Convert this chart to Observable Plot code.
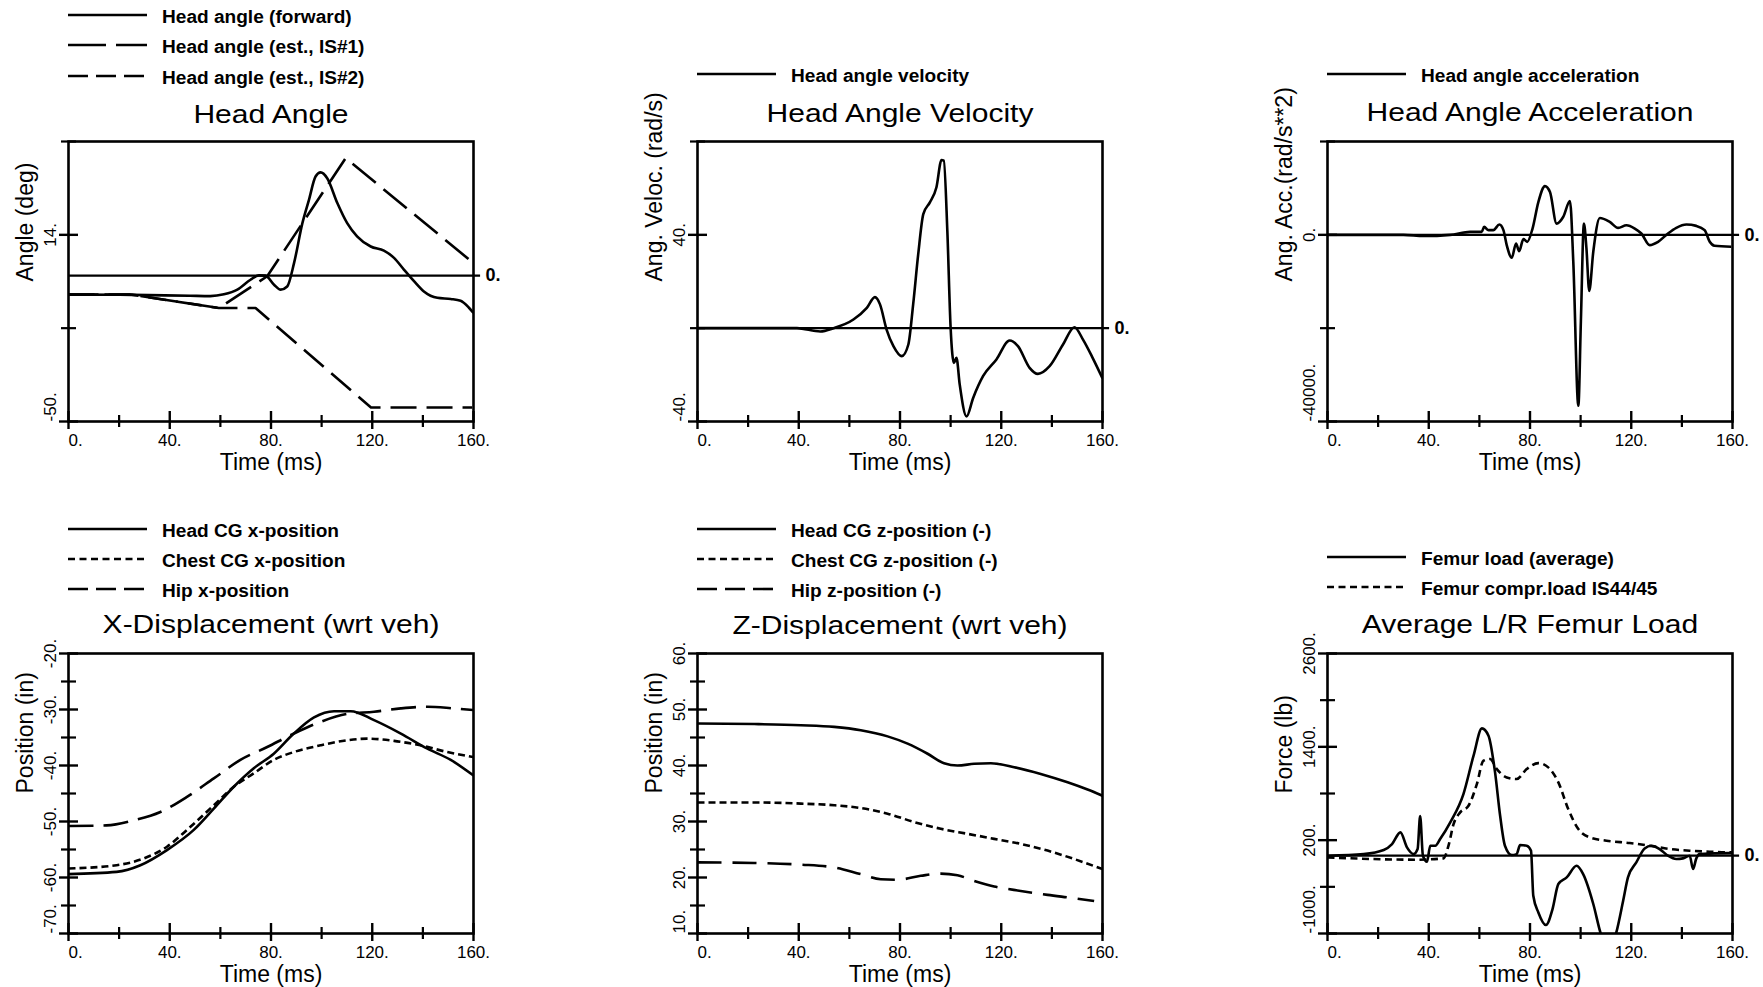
<!DOCTYPE html>
<html>
<head>
<meta charset="utf-8">
<script src="https://cdn.jsdelivr.net/npm/d3@7"></script>
<script src="https://cdn.jsdelivr.net/npm/@observablehq/plot@0.6"></script>
<style>
  html, body { margin: 0; padding: 0; background: #fff; }
  body { position: relative; width: 1763px; height: 987px; overflow: hidden;
         font-family: "Liberation Sans", Arial, Helvetica, sans-serif; color: #000; }
  .panel { position: absolute; width: 510px; height: 345px; }
  .panel svg { max-width: none !important; display: block; }
  .title { position: absolute; white-space: nowrap; font-size: 25px; line-height: 1;
           transform-origin: center center; transform: translateX(-50%) scaleX(1.2); }
  .leg { position: absolute; white-space: nowrap; font-size: 17.5px; font-weight: bold; line-height: 1;
         transform-origin: left center; transform: scaleX(1.09); }
  svg.swatches { position: absolute; left: 0; top: 0; pointer-events: none; }
</style>
</head>
<body>
<script>
// ---------------- DATA ----------------
// shared x axis (Time, ms)
const xMajorTicks = [0, 40, 80, 120, 160];
const xMinorTicks = [20, 60, 100, 140];
const xLabel = "Time (ms)";

// Panel 1: Head Angle (deg)
const haFwdT = [0, 25, 48, 56, 61.4, 66.7, 71.9, 75.2, 77.8, 81.2, 83.8, 86.4, 89.1, 92.4, 95, 97.6, 99.6, 102.2, 106.2, 110.1, 114, 119.4, 124.6, 128.6, 132.5, 136.5, 140.4, 145.7, 151, 154.9, 158.2, 160];
const haFwdV = [-6.5, -6.6, -6.9, -7.0, -6.4, -4.8, -1.4, 0.1, 0, -3.1, -4.8, -3.7, 4.3, 18, 26, 34, 35.4, 33.4, 24.9, 18, 13.5, 10, 8.6, 6.1, 2.1, -1.9, -5.4, -7.6, -8, -8.6, -11, -12.8];
const haIS1T = [0, 25, 59.4, 78.5, 109.5, 160];
const haIS1V = [-6.5, -6.5, -11.1, -0.2, 40.3, 4.3];
const haIS2T = [0, 25, 59.4, 73.9, 119.5, 159.5];
const haIS2V = [-6.5, -6.5, -11.1, -11.1, -45.2, -45.2];
const haYTicks = [-50, -18, 14, 46];

// Panel 2: Head Angle Velocity (rad/s)
const velT = [0, 30, 39.3, 48.5, 53.8, 61.6, 66.9, 70.1, 72.1, 74.7, 77.4, 80.7, 83.3, 85.2, 87.2, 89.2, 91.8, 94.4, 96.4, 97.3, 98.7, 100, 101.3, 102.3, 103.6, 106.3, 108.9, 112.8, 118.1, 123.3, 126.6, 131.2, 134.5, 139.1, 144.4, 148.9, 152.3, 156.1, 160];
const velV = [0, 0, 0, -1.4, 0, 3.7, 8.7, 13.3, 10.2, -0.6, -7.7, -12, -7, 10.2, 31.7, 48.9, 53.9, 60.4, 72.1, 71.8, 41.7, 0.1, -14.9, -12.7, -24.2, -37.8, -29.9, -20.6, -13.4, -5.3, -7.7, -17, -19.6, -16.3, -7, 0.4, -4.9, -12.7, -21.5];
const velYTicks = [-40, 0, 40, 80];

// Panel 3: Head Angle Acceleration (rad/s**2)
const accT = [0, 30, 38, 48.5, 56.3, 60.9, 61.9, 63.6, 65.5, 67.9, 69.5, 70.8, 72.8, 74.5, 75.7, 77.4, 78.9, 81, 83.3, 85.9, 87.9, 90.5, 93.1, 95.8, 97.1, 99.1, 100.1, 101.3, 102.3, 103.4, 105, 107.6, 111.5, 114.8, 118.1, 121.4, 124, 127.3, 130.6, 134.5, 137.8, 141.8, 145.7, 149, 151, 152.9, 159.5];
const accV = [0, 0, -250, 0, 640, 640, 1700, 1000, 1000, 2200, 1000, -2200, -4900, -1850, -3500, -920, -1500, 1350, 7030, 10440, 9160, 2410, 3830, 7240, -5750, -36640, -18530, 2410, -2910, -12000, -3620, 3620, 2770, 1490, 2060, 1350, 280, -2200, -1490, 280, 1490, 2200, 1920, 990, -1490, -2340, -2560];
const accYTicks = [-40000, -20000, 0, 20000];

// Panel 4: X-Displacement (in)
const headXT = [0, 19, 28.4, 38.9, 49.5, 57.4, 65.3, 73.2, 81.1, 89, 97, 104.9, 111.5, 120.7, 131.3, 141.8, 151, 160];
const headXV = [-59.4, -59, -57.8, -55.1, -51.5, -47.7, -43.8, -40.5, -37.9, -34.3, -31.4, -30.3, -30.3, -31.9, -34.3, -37, -39, -41.8];
const chestXT = [0, 19, 29.7, 38.9, 46.8, 57.4, 65.3, 73.2, 81.1, 89, 99.6, 110, 118, 128.6, 139, 149.7, 160];
const chestXV = [-58.4, -57.8, -56.6, -54.5, -51.5, -47.1, -43.8, -41.4, -39, -37.6, -36.4, -35.5, -35.2, -35.6, -36.4, -37.6, -38.5];
const hipXT = [0, 15, 25.7, 36.3, 46.8, 57.4, 67.9, 78.5, 89, 99.6, 110, 120.7, 131.3, 141.8, 152, 160];
const hipXV = [-50.8, -50.7, -49.8, -48.3, -45.6, -42.3, -39, -36.7, -34.3, -32.2, -30.8, -30.4, -29.8, -29.5, -29.8, -30.1];
const xdYTicks = [-70, -65, -60, -55, -50, -45, -40, -35, -30, -25, -20];

// Panel 5: Z-Displacement (in)
const headZT = [0, 22.4, 40.8, 54, 64.5, 75.1, 83, 90.9, 97.4, 102.7, 109.3, 115.9, 125.1, 135.6, 146.2, 154.1, 160];
const headZV = [47.5, 47.4, 47.2, 46.9, 46.3, 45.2, 43.9, 42.1, 40.4, 40, 40.3, 40.4, 39.7, 38.5, 37, 35.7, 34.6];
const chestZT = [0, 22.4, 40.8, 54, 64.5, 75.1, 85.6, 96.1, 106.7, 117.2, 127.7, 138.3, 148.8, 160];
const chestZV = [33.4, 33.4, 33.2, 32.9, 32.4, 31.4, 29.9, 28.7, 27.8, 26.9, 26, 24.8, 23.3, 21.5];
const hipZT = [0, 22.4, 40.8, 54, 64.5, 72.4, 79, 88.2, 96.1, 102.7, 109.3, 117.2, 127.7, 138.3, 148.8, 156.7];
const hipZV = [22.7, 22.6, 22.3, 21.8, 20.6, 19.7, 19.6, 20.3, 20.7, 20.4, 19.4, 18.4, 17.6, 16.9, 16.3, 15.8];
const zdYTicks = [10, 15, 20, 25, 30, 35, 40, 45, 50, 55, 60];

// Panel 6: Average L/R Femur Load (lb)
const femAvgT = [0, 14.3, 22.2, 25.5, 28.8, 31.4, 34, 35.6, 36.6, 37.7, 39.3, 40.6, 42.6, 44.5, 48.5, 53.7, 57.7, 61, 63.6, 66.2, 68.2, 70.1, 72.8, 74.7, 76.1, 78.7, 80.4, 81.3, 83.3, 86.3, 88.9, 91.2, 94.5, 98.4, 101, 105, 107.8, 110.9, 114.1, 116.8, 118.7, 122, 125.3, 128, 131.2, 134.5, 137.8, 140.4, 143.1, 144.4, 145.7, 147, 158.8, 160];
const femAvgV = [0, 21, 73, 150, 300, 107, 21, 86, 510, 0, -77, 129, 129, 214, 429, 793, 1286, 1637, 1543, 1071, 514, 129, 9, 21, 137, 129, 64, -514, -729, -891, -686, -364, -279, -129, -236, -621, -986, -1250, -986, -579, -279, -86, 94, 129, 86, 0, -43, -34, 0, -171, -34, 21, 34, 34];
const femCmpT = [0, 18.2, 35.3, 45.8, 47.8, 49.8, 52.4, 55.7, 59, 61.6, 64.2, 66.9, 70.8, 74.7, 78.7, 83.3, 87.2, 91.2, 95.1, 99.1, 103.6, 110.2, 119.4, 127.3, 135.3, 143.1, 151, 158.2, 160];
const femCmpV = [-21, -43, -51, -34, 129, 407, 557, 643, 921, 1221, 1243, 1114, 1007, 986, 1114, 1191, 1136, 943, 600, 343, 236, 193, 163, 129, 86, 64, 51, 43, 43];
const femYTicks = [-1000, -400, 200, 800, 1400, 2000, 2600];

// titles / axis labels / legend labels
const panelTitles = ["Head Angle", "Head Angle Velocity", "Head Angle Acceleration",
                     "X-Displacement (wrt veh)", "Z-Displacement (wrt veh)", "Average L/R Femur Load"];
const yLabels = ["Angle (deg)", "Ang. Veloc. (rad/s)", "Ang. Acc.(rad/s**2)",
                 "Position (in)", "Position (in)", "Force (lb)"];
const legendHA = ["Head angle (forward)", "Head angle (est., IS#1)", "Head angle (est., IS#2)"];
const legendVel = ["Head angle velocity"];
const legendAcc = ["Head angle acceleration"];
const legendXD = ["Head CG x-position", "Chest CG x-position", "Hip x-position"];
const legendZD = ["Head CG z-position (-)", "Chest CG z-position (-)", "Hip z-position (-)"];
const legendFem = ["Femur load (average)", "Femur compr.load IS44/45"];

// ---------------- LAYOUT ----------------
const W = 510, H = 345, ML = 60, MR = 45, MT = 10, MB = 55;
const FW = W - ML - MR, FH = H - MT - MB;
const FONT = '"Liberation Sans", Arial, Helvetica, sans-serif';
const colX = [68, 697, 1327];     // frame left per column
const rowY = [141, 653];          // frame top per row
const colCx = colX.map(x => x + FW / 2);

function rows(t, v) { return t.map((d, i) => ({t: d, v: v[i]})); }

function panelPlot(p) {
  const labeled = p.yTicks.filter((d, i) => i % 2 === 0);
  const unlabeled = p.yTicks.filter((d, i) => i % 2 === 1);
  const yBottom = labeled.filter(d => d === p.yDomain[0]);
  const yOther = labeled.filter(d => d !== p.yDomain[0]);
  const fmt = d => d + ".";
  const marks = [];
  if (p.zero) {
    marks.push(Plot.ruleY([0], {x1: () => 0, x2: () => 162.8, stroke: "#000", strokeWidth: 2.2}));
    marks.push(Plot.text([0], {x: () => 160, y: d => d, text: () => "0.", dx: 12, textAnchor: "start",
      fontSize: 18, fontWeight: "bold"}));
  }
  for (const s of p.series) {
    marks.push(Plot.line(rows(s.t, s.v), {x: "t", y: "v", stroke: "#000", strokeWidth: 2.6,
      strokeDasharray: s.dash, curve: s.curve || "monotone-x", clip: true,
      strokeLinejoin: "round", strokeLinecap: "butt"}));
  }
  marks.push(Plot.frame({stroke: "#000", strokeWidth: 2.6}));
  // x ticks (crossing the axis)
  marks.push(Plot.tickX(xMajorTicks, {x: d => d, insetTop: FH - 10, insetBottom: -8, stroke: "#000", strokeWidth: 2.4}));
  marks.push(Plot.tickX(xMinorTicks, {x: d => d, insetTop: FH - 6, insetBottom: -6, stroke: "#000", strokeWidth: 2.2}));
  marks.push(Plot.text(xMajorTicks.filter(d => d > 0), {x: d => d, text: fmt, frameAnchor: "bottom", dy: 12,
    lineAnchor: "top", fontSize: 17}));
  marks.push(Plot.text(xMajorTicks.filter(d => d === 0), {x: d => d, text: fmt, frameAnchor: "bottom", dy: 12,
    lineAnchor: "top", textAnchor: "start", fontSize: 17}));
  // y ticks (crossing the axis)
  marks.push(Plot.tickY(labeled, {y: d => d, insetLeft: -9, insetRight: FW - 10, stroke: "#000", strokeWidth: 2.4}));
  marks.push(Plot.tickY(unlabeled, {y: d => d, insetLeft: -7, insetRight: FW - 8, stroke: "#000", strokeWidth: 2.2}));
  marks.push(Plot.text(yBottom, {y: d => d, text: fmt, frameAnchor: "left", dx: -13, rotate: -90,
    textAnchor: "start", lineAnchor: "bottom", fontSize: 17}));
  marks.push(Plot.text(yOther, {y: d => d, text: fmt, frameAnchor: "left", dx: -13, rotate: -90,
    textAnchor: "middle", lineAnchor: "bottom", fontSize: 17}));
  // axis labels
  marks.push(Plot.text([p.yLabel], {text: d => d, frameAnchor: "left", dx: -36, rotate: -90,
    lineAnchor: "bottom", fontSize: 23}));
  marks.push(Plot.text([xLabel], {text: d => d, frameAnchor: "bottom", dy: 48, lineAnchor: "bottom", fontSize: 23}));

  const svg = Plot.plot({
    width: W, height: H, marginLeft: ML, marginRight: MR, marginTop: MT, marginBottom: MB,
    x: {domain: [0, 160], axis: null},
    y: {domain: p.yDomain, axis: null},
    style: {fontFamily: FONT, color: "#000", background: "transparent", overflow: "visible", maxWidth: "none"},
    marks
  });
  svg.style.maxWidth = "none";
  svg.style.width = W + "px";
  svg.style.height = H + "px";
  const wrap = document.createElement("div");
  wrap.className = "panel";
  wrap.style.left = (p.frameX - ML) + "px";
  wrap.style.top = (p.frameY - MT) + "px";
  wrap.appendChild(svg);
  document.body.appendChild(wrap);
}

const panels = [
  {frameX: colX[0], frameY: rowY[0], yDomain: [-50, 46], yTicks: haYTicks, yLabel: yLabels[0], zero: true,
   series: [{t: haFwdT, v: haFwdV, dash: null},
            {t: haIS1T, v: haIS1V, dash: "30,10", curve: "linear"},
            {t: haIS2T, v: haIS2V, dash: "26,10", curve: "linear"}]},
  {frameX: colX[1], frameY: rowY[0], yDomain: [-40, 80], yTicks: velYTicks, yLabel: yLabels[1], zero: true,
   series: [{t: velT, v: velV, dash: null}]},
  {frameX: colX[2], frameY: rowY[0], yDomain: [-40000, 20000], yTicks: accYTicks, yLabel: yLabels[2], zero: true,
   series: [{t: accT, v: accV, dash: null}]},
  {frameX: colX[0], frameY: rowY[1], yDomain: [-70, -20], yTicks: xdYTicks, yLabel: yLabels[3], zero: false,
   series: [{t: headXT, v: headXV, dash: null},
            {t: chestXT, v: chestXV, dash: "7,4"},
            {t: hipXT, v: hipXV, dash: "25,10"}]},
  {frameX: colX[1], frameY: rowY[1], yDomain: [10, 60], yTicks: zdYTicks, yLabel: yLabels[4], zero: false,
   series: [{t: headZT, v: headZV, dash: null},
            {t: chestZT, v: chestZV, dash: "7,4"},
            {t: hipZT, v: hipZV, dash: "24,11"}]},
  {frameX: colX[2], frameY: rowY[1], yDomain: [-1000, 2600], yTicks: femYTicks, yLabel: yLabels[5], zero: true,
   series: [{t: femAvgT, v: femAvgV, dash: null},
            {t: femCmpT, v: femCmpV, dash: "7,4.5"}]}
];
panels.forEach(panelPlot);

// ---------------- TITLES ----------------
const titleBase = [123, 122, 121, 633, 634, 633];
panelTitles.forEach((t, i) => {
  const d = document.createElement("div");
  d.className = "title";
  d.textContent = t;
  d.style.left = colCx[i % 3] + "px";
  d.style.top = (titleBase[i] - 0.8465 * 25) + "px";
  document.body.appendChild(d);
});

// ---------------- LEGENDS ----------------
const legendGroups = [
  {labels: legendHA, col: 0, ys: [15, 45, 76], dashes: [null, "38,10", "20,8"]},
  {labels: legendVel, col: 1, ys: [74], dashes: [null]},
  {labels: legendAcc, col: 2, ys: [74], dashes: [null]},
  {labels: legendXD, col: 0, ys: [529, 559, 589], dashes: [null, "7,4.5", "20,8"]},
  {labels: legendZD, col: 1, ys: [529, 559, 589], dashes: [null, "7,4.5", "20,8"]},
  {labels: legendFem, col: 2, ys: [557, 587], dashes: [null, "7,4.5"]}
];
const sw = d3.create("svg").attr("class", "swatches").attr("width", 1763).attr("height", 987);
legendGroups.forEach(g => {
  const x0 = colX[g.col];
  g.labels.forEach((lab, i) => {
    const y = g.ys[i];
    sw.append("line").attr("x1", x0).attr("x2", x0 + 79).attr("y1", y).attr("y2", y)
      .attr("stroke", "#000").attr("stroke-width", 2.6)
      .attr("stroke-dasharray", g.dashes[i] || null);
    const d = document.createElement("div");
    d.className = "leg";
    d.textContent = lab;
    d.style.left = (x0 + 94) + "px";
    const base = y + 3 + 0.358 * 17.5;
    d.style.top = (base - 0.8465 * 17.5) + "px";
    document.body.appendChild(d);
  });
});
document.body.appendChild(sw.node());
</script>
</body>
</html>
